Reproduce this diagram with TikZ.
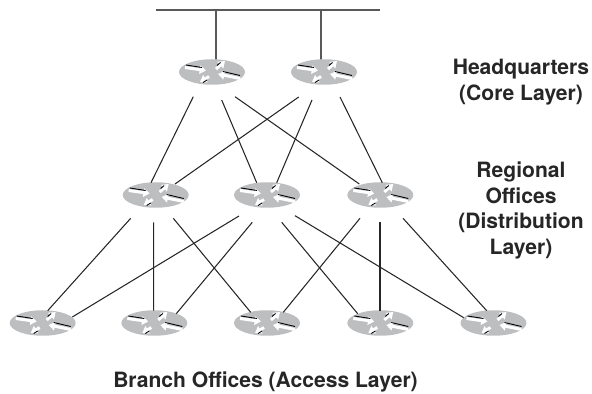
\documentclass[tikz,border=0pt]{standalone}
\usepackage{fontspec}
\setmainfont{TeX Gyre Heros}
\usetikzlibrary{arrows.meta,shapes.geometric}
\definecolor{routergray}{HTML}{BDBEC0}
\tikzset{
	router/.style={ellipse, fill=routergray, minimum width=1.32cm, minimum height=0.51cm, inner sep=0pt},
	link/.style={line width=0.6pt, color=black!85},
	busline/.style={line width=0.9pt, color=black!65},
	flow/.style={line width=1.7pt, color=white, -{Triangle[width=4.8pt,length=3.6pt]}},
	flowedge/.style={line width=0.5pt, color=black},
	layertext/.style={font=\fontsize{12}{14.7}\selectfont\bfseries, align=center, color=black!85}
}
\def\router(#1)(#2,#3){
	\node[router] (#1) at (#2,#3) {};
	\begin{scope}[shift={(#1.center)}]
		\draw[flow] (-27,-4.5) -- (-6,-1.5);
		\draw[flowedge] (-26,-7) -- (-10,-4.5);
		\draw[flow] (4,-3) -- (13,-11);
		\draw[flowedge] (5,-6.5) -- (8.5,-9.5);
		\draw[flow] (28,6.5) -- (6,2);
		\draw[flowedge] (11,-0.5) -- (28,3.5);
		\draw[flow] (-3,4.5) -- (-12,10);
		\draw[flowedge] (-5,8) -- (-9,10.5);
	\end{scope}
}
\def\link(#1)(#2,#3)(#4)(#5,#6){\draw[link] ([shift={(#2,#3)}]#1.center) -- ([shift={(#5,#6)}]#4.center);}

\begin{document}
\begin{tikzpicture}[x=0.02cm, y=-0.02cm]
	\useasboundingbox (0,0) rectangle (592,394);
	%%%%% CORE %%%%%
	\coordinate (busl) at (156,10);
	\coordinate (busr) at (380,10);
	\draw[busline] (busl) -- (busr);
	\router(c1)(212,72)
	\router(c2)(324,72)
	\draw[busline] ([shift={(4,-12.5)}]c1.center) -- ([xshift=0.08cm]c1.center |- busl);
	\draw[busline] ([shift={(-3,-12.5)}]c2.center) -- ([xshift=-0.06cm]c2.center |- busl);
	
	%%%%% DISTRIBUTION %%%%%
	\router(d1)(155.7,195)
	\router(d2)(267,195)
	\router(d3)(380.3,195)
	\link(c1)(-18.7,24.7)(d1)(-4.7,-12.3)
	\link(c1)(9.7,28)(d2)(-10.3,-12.3)
	\link(c1)(23,24.7)(d3)(-21,-11)
	\link(c2)(-25.3,25)(d1)(19.3,-11)
	\link(c2)(-12,28)(d2)(9.7,-12.3)
	\link(c2)(16,25)(d3)(2,-12.3)
	
	%%%%% ACCESS %%%%%
	\router(a1)(42.7,323)
	\router(a2)(154.3,323)
	\router(a3)(267,323)
	\router(a4)(380.3,323)
	\router(a5)(493.5,323)
	\link(d1)(-25,23.3)(a1)(5,-12.3)
	\link(d1)(-2,27.3)(a2)(-0.6,-12.3)
	\link(d1)(17.6,23.3)(a3)(-16.3,-10.7)
	\link(d2)(-28,21)(a1)(29.6,-6)
	\link(d2)(-14.7,27.3)(a2)(22,-9.3)
	\link(d2)(14.7,27.3)(a4)(-22.6,-9.3)
	\link(d2)(28,20.7)(a5)(-29.8,-5.3)
	\link(d3)(-20.3,23.3)(a3)(16.3,-10.7)
	\link(d3)(-0.3,27.3)(a4)(-0.3,-12.3)
	\link(d3)(22.7,23.3)(a5)(-6.8,-12.3)
	
	%%%%% LABELS %%%%%
	\node[layertext] (corelabel) at (521,82) {Headquarters\\(Core Layer)};
	\node[layertext] (distlabel) at (521,210.5) {Regional\\Offices\\(Distribution\\Layer)};
	\node[layertext] (accesslabel) at (265.5,381.5) {Branch Offices (Access Layer)};
\end{tikzpicture}
\end{document}
